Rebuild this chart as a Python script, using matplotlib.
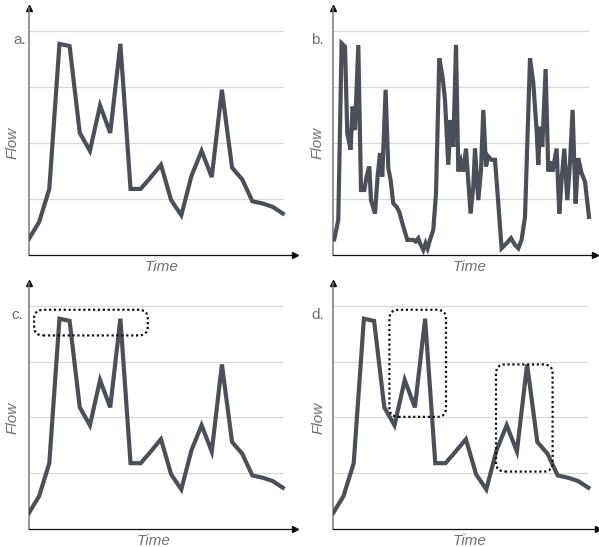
import matplotlib
matplotlib.use("Agg")
import matplotlib.pyplot as plt
from matplotlib.patches import FancyBboxPatch

plt.rcParams['font.family'] = ['Liberation Sans', 'DejaVu Sans']

# flow series (gridlines = 1, 2, 3, 4)
time_a = list(range(26))
flow_a = [0.29, 0.59, 1.18, 3.77, 3.73, 2.18, 1.86, 2.67, 2.18, 3.77, 1.18, 1.18, 1.39,
          1.61, 0.98, 0.71, 1.41, 1.86, 1.39, 2.95, 1.56, 1.35, 0.96, 0.92, 0.86, 0.74]

time_b = [1.3, 5.3, 8.6, 12, 14.3, 17.6, 19.6, 22, 25.3, 28, 31.3, 33.6, 36.3, 38, 42,
          44.6, 47, 49.3, 52.6, 55.3, 57.6, 60.3, 63.6, 66.3, 69.3, 74.3, 80.3, 82.6, 85.3, 87,
          90.3, 92.6, 94.6, 97, 100.3, 103, 106.3, 109.6, 112, 115.3, 117.6, 120.3, 123, 125.3,
          128, 130.3, 133, 137.6, 140.3, 142, 145.3, 148, 150.3, 153, 155.3, 158.6, 162, 165.3,
          168.6, 173.6, 178, 182, 185.3, 188.6, 192, 197, 200.3, 203.6, 205.3, 207, 209.3,
          212.6, 215.3, 218, 219.6, 223.6, 226.3, 228.6, 231.3, 234.3, 237, 239.6, 242.6,
          245.3, 248.6, 252, 256]
flow_b = [0.28, 0.63, 3.78, 3.72, 2.17, 1.88, 2.65, 2.23, 3.75, 1.16, 1.16, 1.40, 1.58,
          0.98, 0.74, 1.40, 1.82, 1.40, 2.95, 1.55, 1.34, 0.92, 0.86, 0.77, 0.57, 0.27, 0.27,
          0.24, 0.30, 0.21, 0.09, 0.21, 0.12, 0.27, 0.45, 1.10, 3.51, 3.18, 2.77, 1.61, 2.41,
          1.93, 3.75, 1.49, 1.67, 1.49, 1.90, 0.74, 1.22, 1.90, 0.98, 1.52, 2.59, 1.58, 1.76,
          1.70, 1.70, 0.92, 0.12, 0.21, 0.30, 0.18, 0.12, 0.27, 0.68, 3.51, 3.07, 2.23, 1.61,
          2.29, 1.93, 3.32, 1.49, 1.67, 1.49, 1.90, 0.74, 1.34, 1.90, 0.98, 1.64, 2.59, 0.92,
          1.73, 1.46, 1.31, 0.68]

grid_levels = [1, 2, 3, 4]

# highlight boxes (time0, flow0, time1, flow1)
boxes_c = [(0.5, 3.47, 11.7, 3.93)]
boxes_d = [(5.5, 2.01, 11.05, 3.93), (15.95, 1.03, 21.5, 2.95)]

LINE = '#4b5058'
GRID = '#d9d9d9'
TXT = '#707070'

W, H = 599, 547
fig = plt.figure(figsize=(W / 100, H / 100), dpi=100)


def make_axes(left, right, bottom, top):
    return fig.add_axes([left / W, 1 - bottom / H, (right - left) / W, (bottom - top) / H])


def draw_panel(ax, t, flow, letter, xmax, letter_dx, flow_dx, time_x, boxes=()):
    ax.set_xlim(0, xmax)
    ax.set_ylim(0, 4.41)
    ax.hlines(grid_levels, 0, max(t), color=GRID, lw=0.9, zorder=1)
    ax.plot(t, flow, color=LINE, lw=3, solid_joinstyle='miter', zorder=3)
    for s in ['top', 'right']:
        ax.spines[s].set_visible(False)
    ax.spines['left'].set_color('#777777')
    ax.spines['left'].set_linewidth(1.1)
    ax.spines['bottom'].set_color('#111111')
    ax.spines['bottom'].set_linewidth(0.9)
    ax.set_xticks([])
    ax.set_yticks([])
    ax.patch.set_alpha(0)
    # arrow heads
    ax.plot(1, 0, '>', color='#111111', ms=4, transform=ax.transAxes, clip_on=False)
    ax.plot(0, 1, '^', color='#111111', ms=4, transform=ax.transAxes, clip_on=False)

    ytr = ax.get_yaxis_transform()
    ax.annotate(letter, xy=(0, 3.84), xycoords=ytr, xytext=(-letter_dx, 0),
                textcoords='offset pixels', ha='center', va='center', color=TXT, fontsize=11)
    ax.annotate('Flow', xy=(0, 2.0), xycoords=ytr, xytext=(-flow_dx, 0),
                textcoords='offset pixels', ha='center', va='center', color=TXT,
                fontsize=11, style='italic', rotation=90)
    ax.annotate('Time', xy=(time_x, 0), xycoords='axes fraction', xytext=(0, -12),
                textcoords='offset pixels', ha='center', va='center', color=TXT,
                fontsize=11, style='italic')

    # px per data unit, used to keep rounded corners round
    bw = ax.get_position().width * W / xmax
    bh = ax.get_position().height * H / 4.41
    for x0, y0, x1, y1 in boxes:
        p = FancyBboxPatch((x0, y0), x1 - x0, y1 - y0,
                           boxstyle='round,pad=0,rounding_size=%f' % (9 / bw),
                           mutation_aspect=bw / bh, fill=False, ec='#111111',
                           lw=1.6, ls=(0, (1, 1.2)), zorder=4)
        ax.add_patch(p)


ax_a = make_axes(29, 295, 255, 8)
ax_b = make_axes(333, 595, 255, 8)
ax_c = make_axes(29, 295, 529, 283)
ax_d = make_axes(333.3, 598, 529, 283)

draw_panel(ax_a, time_a, flow_a, 'a.', 26.2, 9, 16, 0.5)
draw_panel(ax_b, time_b, flow_b, 'b.', 262, 16, 15, 0.52)
draw_panel(ax_c, time_a, flow_a, 'c.', 26.2, 11.5, 16, 0.47, boxes_c)
draw_panel(ax_d, time_a, flow_a, 'd.', 25.95, 16, 14.5, 0.516, boxes_d)

fig.savefig('out.png', dpi=100)
